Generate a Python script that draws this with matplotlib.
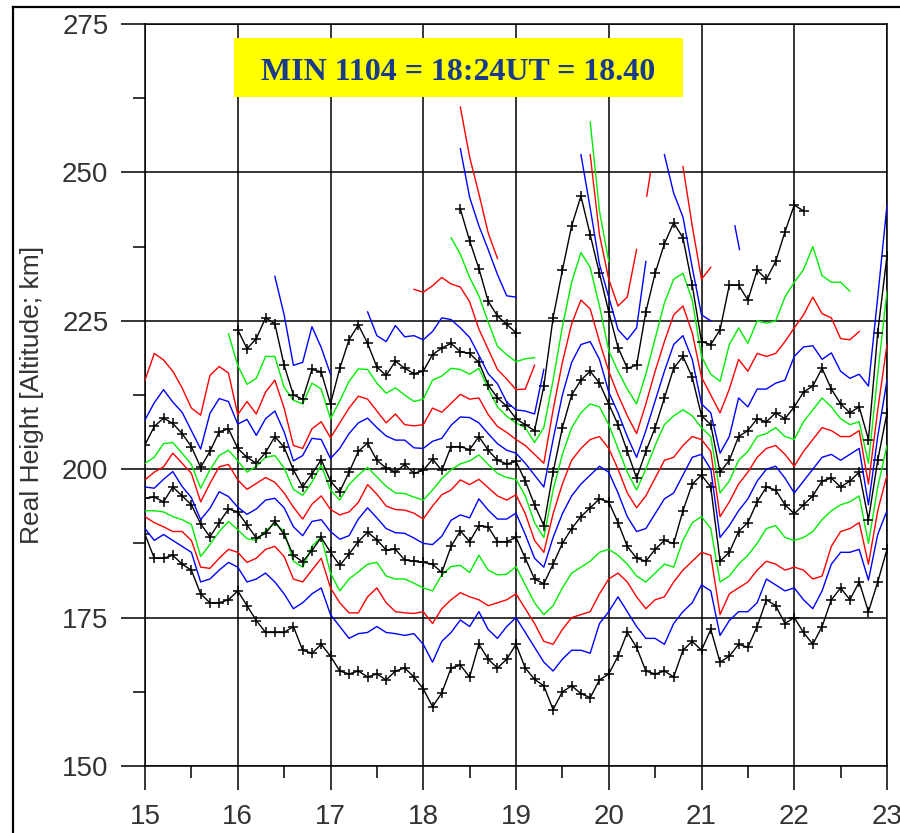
import numpy as np
import matplotlib
matplotlib.use("Agg")
import matplotlib.pyplot as plt
from matplotlib.patches import Rectangle
from matplotlib.lines import Line2D

plt.rcParams['font.family'] = ['Liberation Sans', 'DejaVu Sans']

# Sample times (UT hours), one every 6 minutes from 15:00 to 23:00
hours = np.round(np.arange(15.0, 23.0001, 0.1), 1)

N = None
# Real height (km) of each fixed-frequency trace, lowest first.
# Each list: 15.0-17.0 | 17.1-19.0 | 19.1-21.0 | 21.1-23.0
black_0 = ([189, 185, 185, 185.5, 184, 183, 179, 177.5, 177.5, 178, 179.5, 177, 174.5, 172.5, 172.5, 172.5, 173.5, 169.5, 169, 170.5, 168.5]
           + [166, 165.5, 166, 165, 165.5, 164.5, 166, 166.5, 165, 163, 160, 162.3, 166.5, 167, 165, 170.5, 168, 166.5, 168, 170.5]
           + [166.5, 164.6, 163.5, 159.5, 162.5, 163.5, 162.2, 161.5, 164.5, 165.5, 168.5, 172.5, 170, 166, 165.5, 166, 165, 169.5, 171, 169.5]
           + [173, 167.5, 168.5, 170.5, 170, 173.5, 178, 177, 174, 175, 172.5, 170.5, 173.5, 178, 180, 178, 181, 176, 181, 186.5])
blue_0 = ([190, 188, 189, 188, 187, 186, 181, 181.5, 183, 184.3, 183.5, 181, 181.5, 182.5, 181, 179, 176.5, 177.5, 179, 180, 175.5]
          + [173.5, 171.5, 172.3, 172.5, 173.5, 172.5, 172.3, 172, 172.3, 170.5, 167.5, 171, 172.5, 174.6, 173.5, 176, 173, 171.5, 173.5, 175]
          + [172.5, 170, 167.5, 166, 168, 169.5, 169.5, 169, 174, 176, 178.5, 176, 173.5, 171.5, 171.5, 170.5, 174, 176, 177.5, 180.5]
          + [179.5, 172, 174.5, 176, 176, 177.5, 181.5, 180.5, 179.5, 180, 178, 176.5, 179.5, 184, 186, 186, 186.5, 181.3, 189, 193])
red_0 = ([192, 191, 190.3, 189.5, 189.5, 188, 183.5, 183.3, 185, 186.5, 186, 184.3, 185, 186.5, 187, 185.3, 181.5, 181, 183, 185, 180]
         + [177.5, 175.8, 175.8, 178.5, 180, 177.5, 176, 175.8, 175.7, 176, 174, 176.5, 178, 179.2, 178.5, 178, 177, 177.5, 178, 179]
         + [176.5, 174, 171, 170.5, 173, 175, 175.5, 176, 179, 181.5, 182.5, 181, 178.5, 176.5, 178, 178.5, 181, 183, 184.5, 186]
         + [185.5, 175.5, 179, 180, 181, 183, 184.5, 184, 183, 183.5, 183, 181.5, 182, 187, 189.5, 190, 191, 184, 193, 199])
green_0 = ([193, 193, 192.8, 192, 191.5, 190.7, 185.3, 187.3, 189.5, 191.2, 189.8, 188.3, 188, 189.6, 190.9, 189.5, 184.5, 183.5, 187, 188.6, 182.5]
           + [179.5, 181.5, 182.7, 184, 184.3, 182, 181.5, 181.5, 180.8, 180, 179.5, 182.2, 183.6, 183.8, 182.6, 185.5, 183, 182.2, 182.3, 183.6]
           + [180.5, 177.5, 175.5, 177, 180, 182.5, 183.5, 184.5, 186, 186.5, 185.5, 184, 182, 181, 182.5, 184, 183.5, 188, 191, 192]
           + [190, 181, 182, 184, 185.5, 187.5, 190, 190.5, 188.5, 188, 188.5, 189.5, 191.5, 193, 194, 194.5, 195.5, 187.5, 197, 204])
black_1 = ([195.1, 195.3, 194.5, 197, 195.5, 194, 190.8, 188.6, 191, 193.3, 192.8, 190.6, 188.4, 189.2, 191.2, 189, 185.5, 184.4, 186.3, 188.5, 186]
           + [183.8, 185.7, 187.8, 189.4, 188.1, 186.4, 186.5, 184.7, 184.5, 184.3, 184, 182.6, 187, 189.6, 187.8, 190.5, 190.3, 187.8, 187.8, 188.5]
           + [185, 181.5, 180.7, 184, 187.5, 190, 192, 193.5, 195, 194.5, 191, 187, 185, 184.5, 186.5, 188, 187.5, 193, 197.5, 199]
           + [197, 184.5, 186, 189.5, 191, 194.5, 197, 196.5, 194, 192.5, 194, 195.5, 198, 198.5, 197, 198, 199.5, 191.5, 201.5, 209.5])
blue_1 = ([197, 196.8, 198.3, 199.6, 197.1, 195.2, 191.5, 193.4, 196.2, 195.4, 193.6, 192.4, 193.3, 194.8, 195.1, 193.5, 190.3, 188.8, 191.2, 191.5, 189.5]
          + [188.2, 188.8, 191.6, 193.5, 191.8, 190, 189.3, 189.2, 188.4, 187.5, 187.3, 188.7, 191.4, 192.3, 191.8, 195, 193.1, 191.6, 191.6, 192.6]
          + [189, 185, 183.5, 188.5, 192.5, 195.5, 197.5, 199, 200.5, 199.5, 196, 192, 189.5, 190, 192.5, 195, 196, 199, 202, 202.5]
          + [200, 188.5, 190.5, 193, 195, 198, 200, 200.5, 198.5, 196, 198, 200, 202, 202.5, 201.5, 202.5, 203.5, 194, 205.5, 215])
red_1 = ([198.2, 199.5, 200.4, 202.7, 201, 199.3, 194.5, 197.6, 200.4, 200.8, 198.2, 196.6, 197.6, 198.6, 197.8, 196, 193.6, 191.6, 194.1, 195.5, 193.2]
         + [192.3, 192.8, 194.4, 197.4, 195.8, 193.8, 193.2, 193.1, 192.6, 191.6, 193.8, 195.7, 196.5, 198.2, 197.4, 198.3, 196.9, 195.5, 194.8, 195.7]
         + [192.5, 188, 186, 192.5, 197.5, 201.5, 203.5, 205, 205.5, 203.5, 200, 196, 193.5, 195.5, 198.5, 201.5, 202, 204, 205.5, 205]
         + [203, 192, 194.5, 197.5, 199.5, 202, 203.5, 204, 202.5, 200.5, 203, 205, 207, 206.5, 205.5, 205.5, 206.5, 197.5, 210, 221])
green_1 = ([201, 202, 204.3, 204.5, 202.7, 200.8, 196.8, 199.9, 202.3, 203.2, 201.4, 199.5, 200.5, 202, 202.3, 200.2, 196.6, 195.6, 197.8, 200.7, 196.5]
           + [194.8, 197.4, 199, 200.3, 198.7, 197.1, 196, 195.9, 195.3, 194.8, 196.5, 198.4, 199.9, 200.9, 201.4, 202.4, 200.8, 199.3, 198.6, 198.3]
           + [195.5, 191, 188.5, 196.5, 202.5, 207, 209.5, 211, 210.5, 207.5, 203.5, 199.5, 196.5, 200, 204, 207.5, 209, 210, 209, 207]
           + [205.5, 196, 198, 201.5, 203, 205.5, 206, 207, 205.5, 205, 208, 210, 212, 210.5, 208.5, 207.5, 208, 201, 216, 230])
black_2 = ([204.1, 207.2, 208.6, 207.7, 206, 203.8, 200.3, 203, 206.3, 206.8, 203.5, 202, 201, 202.8, 205.5, 203.7, 199.9, 197, 199.2, 201.6, 198]
           + [196.2, 199.5, 203, 204.4, 201.5, 200.2, 199.5, 200.8, 199.3, 199.8, 201.7, 199.8, 203.8, 203.8, 203.3, 205.5, 203.2, 201.5, 200.9, 201.3]
           + [198, 194, 190.5, 199.5, 207, 212.5, 215, 216.5, 214.5, 211, 207.5, 203, 198.5, 203, 207, 212, 217, 219, 215.5, 209]
           + [207.5, 199.5, 201.5, 205.5, 206.5, 208.5, 208, 209.5, 208.5, 210.5, 213, 214, 217, 213.5, 211, 209.5, 210.5, 205, 223, 236])
blue_2 = ([208.3, 211.2, 213.4, 211.3, 209.6, 206.5, 203.4, 209.4, 211.9, 211.4, 207.6, 208.4, 205.7, 208.5, 209.8, 206.3, 201.4, 202.3, 205.2, 205, 201.8]
          + [203.5, 206, 207.8, 208.6, 207, 205.6, 204.9, 204.9, 203.6, 203.5, 204.7, 205.2, 207.4, 208.8, 208.7, 207.8, 206, 204.3, 203.2, 202.7]
          + [201, 199, 197, 205, 212.5, 218, 221, 221.5, 218.5, 213, 209.5, 205.5, 202, 206.5, 211.5, 216.5, 221, 222.5, 218.5, 211]
          + [209.5, 202.7, 205.5, 212, 210.5, 213.5, 213.5, 214.5, 215, 219, 220.6, 220.8, 218.5, 219.6, 216.5, 215.3, 216, 214, 229, 244.5])
red_2 = ([215, 219.5, 218.4, 216.5, 213.7, 210.3, 209.1, 215.8, 217.3, 216.2, 209.2, 211.4, 209.3, 213, 215, 210.3, 204, 203.5, 206.8, 208, 205.3]
         + [207.8, 210.3, 212.3, 211.8, 209.8, 207.8, 209.3, 207.5, 207.3, 207.5, 210.3, 209.6, 211.1, 212.6, 211.8, 212, 209.2, 207.2, 206.2, 205]
         + [204, 202.5, 201, 210, 218, 224.5, 228.5, 227, 221.5, 216.5, 212.5, 209, 206, 211, 216.5, 221.5, 226, 227.5, 223, 215.5]
         + [212.5, 209.5, 213.5, 218.5, 216.5, 219.5, 219, 219.5, 221.5, 223.8, 226, 229, 226.2, 225.5, 222, 221.8, 223.2, N, N, N])
green_2 = ([N] * 9 + [222.8, 217.5, 214.3, 215.3, 219, 219, 213.8, 211.6, 211, 214.5, 213.5, 208.5]
           + [211.5, 214.8, 216.9, 216.8, 214.5, 212.8, 213.7, 212.5, 211.4, 211.8, 215, 215.7, 217, 216.8, 216, 217, 213.6, 210.5, 208.9, 207.8]
           + [207, 204.5, 207, 215, 224, 231.5, 236.5, 234, 227.5, 220, 216.5, 213.5, 211, 216, 222, 228, 232, 233, 228.5, 219]
           + [216, 214.8, 221, 223.8, 221.2, 225, 224.6, 225, 229, 231.5, 233.6, 237.5, 232.6, 231.5, 231.5, 230, N, N, N, N])
black_3 = ([N] * 10 + [223.5, 220.3, 222, 225.5, 224.5, 217.5, 212.5, 211.8, 216.8, 216.4, 211]
           + [217, 221.8, 224.3, 221.2, 217.2, 215.8, 218.2, 217, 216.1, 216.5, 219.3, 220.4, 221.2, 219.8, 219.5, 218, 214.2, 212, 210.6, 208.5]
           + [207.5, 206.5, 214, 225.5, 233.5, 241, 246, 239.5, 233, 226.5, 220.5, 217, 217.5, 226.5, 233, 238, 241.5, 239, 231, 221.5]
           + [221, 223.5, 231, 231, 228.5, 233.5, 232, 235, 240, 244.5, 243.5] + [N] * 9)
blue_3 = ([N] * 14 + [232.5, 226, 217.5, 218, 224, 220.5, 216]
          + [N, N, N, 226.5, 222.5, 221.5, 224.2, 222.3, 222.5, 221.8, 223.2, 225.5, 225.2, 223.8, 222.2, 219.2, 216.1, 214.4, 211.3, 210]
          + [209.8, 209.3, 216.8, N, N, N, 253, 244, 234.5, 229, 223.5, 221.8, 223.8, 235, N, 253, 246.5, 242.5, 234, 226]
          + [225] + [N] * 19)
red_3 = ([N] * 21
         + [N] * 8 + [230.3, 229.8, 230.9, 232.3, 231.2, 230.7, 228.2, 223.6, 220.2, 216.8, 215.2, 213.4]
         + [213.5, 217.5, N, N, N, N, N, 253, 239.5, 232, 227.5, 229, 237, N, N, N, N, 251, 241, 232]
         + [234] + [N] * 19)
green_3 = ([N] * 21
           + [N] * 12 + [239, 236.2, 232.3, 229.2, 224.8, 220.7, 219.3, 218.1]
           + [218.6, 218.8, N, N, N, N, N, 258.5, 243.5, 235] + [N] * 10
           + [N] * 20)
black_4 = [N] * 34 + [243.8, 238.5, 233.8, 228.3, 225.8, 224.4, 223] + [N] * 40
blue_4 = [N] * 34 + [254, 245.8, 241, 237, 232.8, 229.2, 229] + [N] * 40
red_4 = [N] * 34 + [261, 252.6, 246.4, 239.8, 235.5] + [N] * 42

# Short isolated fragments (time, height)
red_3_piece_t, red_3_piece_h = [20.41, 20.45], [246, 250]
blue_3_piece_t, blue_3_piece_h = [21.36, 21.41], [241, 237]

traces = [
    ("black", black_0), ("blue", blue_0), ("red", red_0), ("green", green_0),
    ("black", black_1), ("blue", blue_1), ("red", red_1), ("green", green_1),
    ("black", black_2), ("blue", blue_2), ("red", red_2), ("green", green_2),
    ("black", black_3), ("blue", blue_3), ("red", red_3), ("green", green_3),
    ("black", black_4), ("blue", blue_4), ("red", red_4),
]
colors = {"black": "#000000", "blue": "#0000FF", "red": "#FF0000", "green": "#00EE00"}

x_major = list(range(15, 24))
y_major = list(range(150, 276, 25))
x_minor = [h + 0.5 for h in range(15, 23)]
y_minor = [v + 12.5 for v in range(150, 275, 25)]


def as_array(values):
    vals = list(values) + [None] * (len(hours) - len(values))
    return np.array([np.nan if v is None else v for v in vals[:len(hours)]], dtype=float)


fig = plt.figure(figsize=(9, 8.33), dpi=100)
ax = fig.add_axes([145 / 900, 1 - 766 / 833, 742 / 900, 742 / 833])

for cname, vals in traces:
    y = as_array(vals)
    if cname == "black":
        ax.plot(hours, y, color=colors[cname], lw=1.0, marker='+', ms=7, mew=1.1, zorder=3)
    else:
        ax.plot(hours, y, color=colors[cname], lw=1.0, zorder=3)
ax.plot(red_3_piece_t, red_3_piece_h, color=colors["red"], lw=1.0, zorder=3)
ax.plot(blue_3_piece_t, blue_3_piece_h, color=colors["blue"], lw=1.0, zorder=3)

ax.set_xlim(15, 23)
ax.set_ylim(150, 275)
ax.set_xticks(x_major)
ax.set_yticks(y_major)
ax.set_xticks(x_minor, minor=True)
ax.set_yticks(y_minor, minor=True)
ax.grid(True, which='major', color='black', lw=1.1)
ax.tick_params(which='major', direction='out', length=17.3, width=1.1,
               labelsize=20, labelcolor='#333333', color='black')
ax.tick_params(axis='y', which='major', pad=9)
ax.tick_params(axis='x', which='major', pad=10)
ax.tick_params(which='minor', direction='out', length=8.6, width=1.1, color='black')
for sp in ax.spines.values():
    sp.set_color('black')
    sp.set_linewidth(1.1)

ax.set_ylabel('Real Height [Altitude; km]', fontsize=19, color='#333333')
ax.yaxis.set_label_coords((44 - 145) / 742, 0.5)

# Outer frame (left and top edges)
fig.add_artist(Line2D([13 / 900, 13 / 900], [0, 1 - 7 / 833], color='black', lw=1.6,
                      transform=fig.transFigure))
fig.add_artist(Line2D([13 / 900, 1], [1 - 7 / 833, 1 - 7 / 833], color='black', lw=1.6,
                      transform=fig.transFigure))

# Highlighted time stamp
fig.add_artist(Rectangle((234 / 900, 1 - 97 / 833), 449 / 900, 59 / 833, transform=fig.transFigure,
                         facecolor='#FFFF00', edgecolor='none', zorder=10))
fig.text(458.5 / 900, 1 - 80 / 833, 'MIN 1104 = 18:24UT = 18.40', family='Liberation Serif',
         weight='bold', size=23, color='#1a3a8c', ha='center', va='baseline', zorder=11)

fig.savefig('out.png', dpi=100)
